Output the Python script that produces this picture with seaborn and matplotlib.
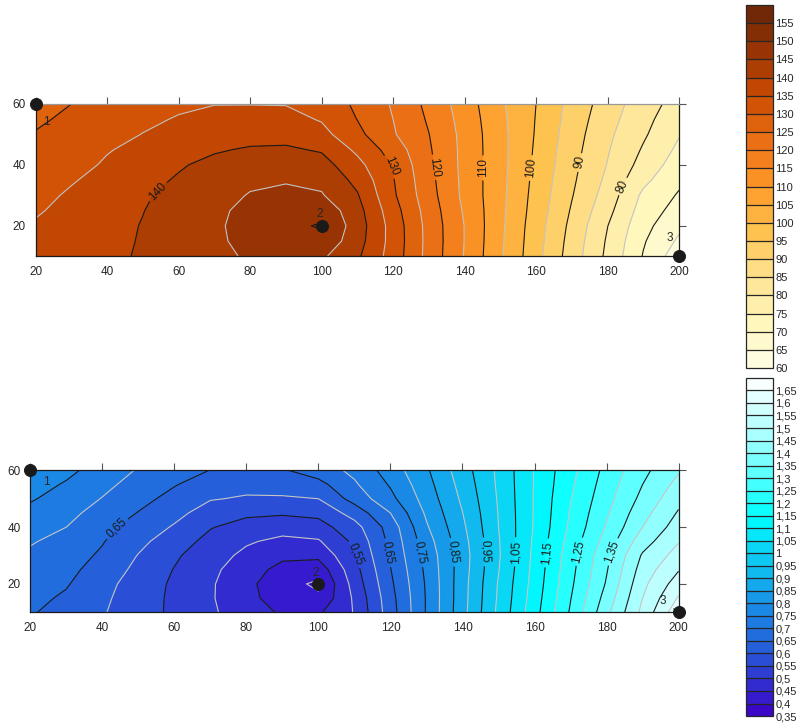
import numpy as np
import matplotlib
matplotlib.use('Agg')
import matplotlib.pyplot as plt
import seaborn as sns
from matplotlib.colors import LinearSegmentedColormap
from matplotlib.ticker import FuncFormatter

# grid of the field
x_grid = [20, 30, 40, 50, 60, 70, 80, 90, 100, 110, 120, 130, 140, 150, 160, 170, 180, 190, 200]
y_grid = [10, 15, 20, 25, 30, 35, 40, 45, 50, 55, 60]

# upper map, one row per y value (10 .. 60)
top_z = [
    [137.0, 138.0, 139.2, 140.4, 142.0, 143.8, 145.6, 146.5, 145.8, 140.8, 132.8, 123.3, 114.7, 105.7, 96.7, 87.6, 78.9, 69.7, 62.0],
    [136.3, 137.5, 138.9, 140.3, 142.2, 144.2, 146.3, 148.3, 148.8, 142.0, 133.1, 123.4, 114.9, 105.9, 97.0, 88.1, 79.4, 70.5, 64.2],
    [135.5, 137.0, 138.6, 140.2, 142.2, 144.3, 146.6, 149.0, 150.4, 142.5, 133.0, 123.3, 114.9, 106.1, 97.3, 88.7, 80.1, 71.6, 66.0],
    [134.5, 136.4, 138.2, 139.9, 141.9, 144.0, 146.3, 148.2, 148.5, 141.8, 132.1, 122.8, 114.4, 106.3, 97.8, 89.5, 81.5, 72.8, 68.0],
    [133.5, 135.7, 137.8, 139.5, 141.3, 143.2, 145.3, 146.2, 145.4, 140.4, 130.8, 122.0, 113.8, 106.4, 98.2, 90.3, 82.8, 74.0, 69.5],
    [132.3, 134.6, 136.7, 138.5, 140.5, 142.4, 144.1, 144.6, 143.8, 138.7, 130.3, 121.5, 113.7, 106.5, 98.6, 90.9, 83.9, 76.2, 71.0],
    [131.2, 133.4, 135.6, 137.4, 139.5, 141.3, 142.5, 142.8, 142.0, 136.5, 129.6, 121.0, 113.6, 106.6, 99.0, 91.4, 84.8, 78.2, 72.5],
    [130.8, 132.7, 134.7, 136.3, 138.0, 139.5, 140.5, 140.7, 139.5, 134.0, 127.8, 120.6, 113.6, 106.6, 99.3, 91.9, 85.4, 79.5, 74.0],
    [130.3, 132.0, 133.7, 135.1, 136.4, 137.5, 138.2, 138.3, 136.6, 131.3, 125.5, 120.1, 113.5, 106.5, 99.6, 92.4, 86.0, 80.7, 75.3],
    [129.2, 131.0, 132.7, 134.2, 135.3, 136.1, 136.4, 136.6, 134.6, 129.9, 125.0, 119.4, 113.1, 106.2, 99.8, 92.9, 86.8, 81.5, 76.7],
    [128.0, 130.0, 131.7, 133.2, 134.3, 134.9, 134.9, 134.8, 133.5, 129.0, 124.5, 118.7, 112.6, 105.8, 100.0, 93.4, 87.6, 82.3, 78.0],
]

# lower map
bot_z = [
    [0.655, 0.630, 0.604, 0.573, 0.540, 0.507, 0.476, 0.443, 0.443, 0.503, 0.627, 0.754, 0.883, 1.011, 1.131, 1.256, 1.386, 1.513, 1.635],
    [0.663, 0.643, 0.609, 0.575, 0.540, 0.505, 0.466, 0.424, 0.408, 0.508, 0.632, 0.754, 0.881, 1.007, 1.125, 1.248, 1.370, 1.500, 1.605],
    [0.672, 0.654, 0.616, 0.578, 0.542, 0.506, 0.464, 0.416, 0.392, 0.520, 0.640, 0.756, 0.880, 1.004, 1.120, 1.240, 1.355, 1.487, 1.575],
    [0.682, 0.663, 0.630, 0.587, 0.548, 0.512, 0.472, 0.435, 0.420, 0.532, 0.648, 0.761, 0.877, 0.998, 1.116, 1.234, 1.346, 1.472, 1.547],
    [0.692, 0.671, 0.643, 0.598, 0.557, 0.522, 0.488, 0.460, 0.462, 0.545, 0.657, 0.767, 0.875, 0.994, 1.113, 1.229, 1.338, 1.456, 1.520],
    [0.704, 0.685, 0.653, 0.613, 0.574, 0.535, 0.506, 0.488, 0.495, 0.560, 0.663, 0.778, 0.881, 0.996, 1.109, 1.220, 1.321, 1.428, 1.497],
    [0.718, 0.700, 0.664, 0.630, 0.595, 0.553, 0.530, 0.520, 0.530, 0.581, 0.671, 0.794, 0.890, 1.000, 1.105, 1.210, 1.305, 1.400, 1.475],
    [0.736, 0.714, 0.681, 0.648, 0.615, 0.577, 0.560, 0.556, 0.563, 0.620, 0.700, 0.808, 0.899, 1.002, 1.104, 1.204, 1.294, 1.382, 1.455],
    [0.755, 0.729, 0.698, 0.666, 0.634, 0.603, 0.595, 0.595, 0.600, 0.669, 0.736, 0.821, 0.909, 1.005, 1.104, 1.198, 1.283, 1.364, 1.435],
    [0.770, 0.745, 0.713, 0.681, 0.653, 0.625, 0.614, 0.618, 0.634, 0.693, 0.755, 0.832, 0.918, 1.008, 1.103, 1.191, 1.274, 1.350, 1.415],
    [0.785, 0.762, 0.729, 0.696, 0.673, 0.649, 0.635, 0.645, 0.674, 0.712, 0.773, 0.843, 0.927, 1.010, 1.103, 1.185, 1.265, 1.337, 1.395],
]

pts_x = [20, 100, 200]
pts_y = [60, 20, 10]
pts_labels = ['1', '2', '3']

top_levels = np.arange(60, 161, 5)
bot_levels = np.round(np.arange(0.35, 1.701, 0.05), 2)

sns.set_theme(style='white')
plt.rcParams['font.family'] = ['Liberation Sans', 'DejaVu Sans']

blues = LinearSegmentedColormap.from_list('blues', [
    (0.0, '#3c00c8'), (0.185, '#2858d8'), (0.333, '#1890e8'),
    (0.481, '#0cd0f2'), (0.593, '#00ffff'), (0.815, '#a0ffff'), (1.0, '#ffffff')])

fig = plt.figure(figsize=(8.04, 7.24), dpi=100)
ax_top = fig.add_axes([0.0444, 0.646, 0.8001, 0.2104])
ax_bot = fig.add_axes([0.0377, 0.1543, 0.8063, 0.196])
cax_top = fig.add_axes([0.9275, 0.4917, 0.0336, 0.5014])
cax_bot = fig.add_axes([0.9275, 0.011, 0.0336, 0.467])

X, Y = np.meshgrid(x_grid, y_grid)


def comma(v):
    return ('%g' % round(v, 2)).replace('.', ',')


def draw_map(ax, cax, Z, levels, cmap, label_pos, fmt, offsets):
    Z = np.array(Z)
    cf = ax.contourf(X, Y, Z, levels=levels, cmap=cmap)
    black = levels[2::2]
    grey = levels[1::2]
    ax.contour(X, Y, Z, levels=grey, colors='#c4c4c4', linewidths=0.8)
    cs = ax.contour(X, Y, Z, levels=black, colors='k', linewidths=0.8)
    ax.clabel(cs, fmt=fmt, fontsize=8.5, manual=label_pos, inline=True, inline_spacing=3)

    sns.scatterplot(x=pts_x, y=pts_y, ax=ax, color='k', s=75, edgecolor='k',
                    zorder=6, clip_on=False, legend=False)
    for px, py, lab, off in zip(pts_x, pts_y, pts_labels, offsets):
        ax.annotate(lab, xy=(px, py), xytext=off, textcoords='offset points',
                    ha='center', va='center', fontsize=8.5, annotation_clip=False,
                    arrowprops=dict(arrowstyle='-', color='k', lw=0.8, shrinkA=4, shrinkB=0))

    ax.set_xlim(20, 200)
    ax.set_ylim(10, 60)
    ax.set_xticks([20, 40, 60, 80, 100, 120, 140, 160, 180, 200])
    ax.set_yticks([20, 40, 60])
    ax.tick_params(direction='out', length=5, width=0.8, color='#555555',
                   top=True, right=True, labeltop=False, labelright=False,
                   labelsize=8.5, pad=2)
    for s in ax.spines.values():
        s.set_color('k')
        s.set_linewidth(0.9)

    cb = fig.colorbar(cf, cax=cax, ticks=levels[:-1], drawedges=True)
    cb.outline.set_linewidth(0.9)
    cb.dividers.set_linewidth(0.9)
    cb.ax.tick_params(length=0, labelsize=8, pad=2)
    cb.ax.yaxis.set_major_formatter(FuncFormatter(lambda v, p: comma(v)))
    return cf


draw_map(ax_top, cax_top, top_z, top_levels, plt.cm.YlOrBr,
         [(54.9, 30.2), (119.1, 39.4), (132.6, 39.4), (145.6, 39.0),
          (158.4, 39.0), (171.3, 41.0), (183.4, 33.4)],
         lambda v: '%d' % round(v),
         [(8, -13), (-1.7, 8.5), (-6.5, 13)])
ax_top.spines['top'].set_color('#999999')

draw_map(ax_bot, cax_bot, bot_z, bot_levels, blues,
         [(44.0, 39.6), (109.7, 30.2), (119.4, 31.0), (128.3, 31.0), (138.0, 31.3),
          (146.3, 31.3), (154.6, 31.3), (162.9, 31.0), (172.2, 31.4), (181.5, 31.4)],
         comma,
         [(11.7, -8.6), (-1.7, 8), (-11.5, 8)])

fig.savefig('out.png', dpi=100)
